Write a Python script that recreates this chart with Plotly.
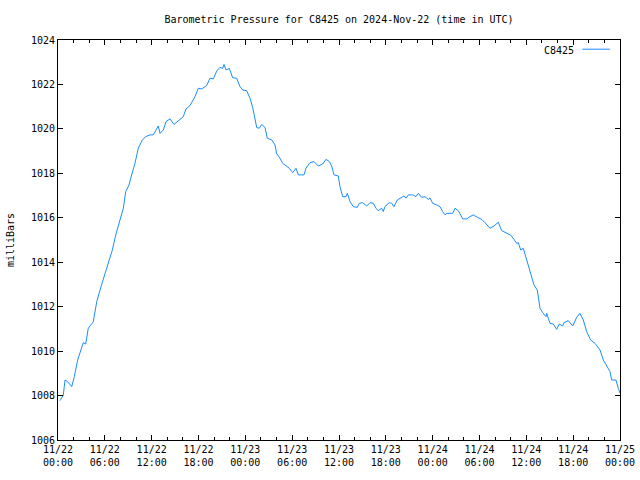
import plotly.graph_objects as go

# hours since 2024-11-22 00:00 UTC
hours = [0.26, 0.68, 0.90, 1.24, 1.76, 2.09, 2.52, 3.04, 3.24, 3.55, 3.88, 4.52, 4.96,
         5.51, 6.02, 6.44, 6.96, 7.39, 7.82, 8.37, 8.67, 9.10, 9.35, 9.86, 10.29, 10.80,
         11.24, 11.79, 12.21, 12.85, 13.07, 13.49, 13.84, 14.35, 14.86, 15.41, 16.05,
         16.40, 16.91, 17.55, 17.97, 18.41, 19.05, 19.47, 19.90, 20.33, 20.75, 21.10,
         21.27, 21.52, 21.95, 22.38, 22.89, 23.32, 23.66, 24.17, 24.60, 24.94, 25.24,
         25.46, 25.79, 26.10, 26.52, 26.81, 27.38, 27.80, 28.02, 28.44, 28.79, 29.30,
         29.63, 30.07, 30.49, 30.79, 31.52, 31.77, 32.28, 32.80, 33.35, 33.91, 34.33,
         34.76, 35.06, 35.36, 35.91, 36.13, 36.47, 36.90, 37.06, 37.41, 37.83, 38.34,
         38.60, 39.03, 39.55, 39.97, 40.39, 40.74, 41.03, 41.47, 41.67, 41.89, 42.44,
         42.75, 43.04, 43.47, 43.90, 44.33, 44.58, 44.88, 45.44, 45.86, 46.16, 46.59,
         47.02, 47.44, 47.66, 48.00, 48.51, 48.94, 49.28, 49.58, 49.80, 50.57, 50.86,
         51.28, 51.85, 52.36, 52.78, 53.20, 53.72, 54.28, 54.70, 55.34, 55.86, 56.41,
         56.84, 57.48, 57.99, 58.42, 58.76, 58.97, 59.28, 59.61, 59.96, 60.47, 60.98,
         61.40, 61.75, 62.10, 62.52, 62.61, 63.03, 63.45, 63.89, 64.22, 64.66, 64.82,
         65.37, 65.94, 66.45, 66.87, 67.30, 67.73, 68.24, 68.80, 69.44, 69.86, 70.37,
         70.72, 70.93, 71.48, 71.78, 72.00]

pressure = [1007.77, 1008.02, 1008.70, 1008.62, 1008.40, 1008.85, 1009.60, 1010.20,
            1010.38, 1010.32, 1011.03, 1011.32, 1012.22, 1012.90, 1013.50, 1014.02,
            1014.55, 1015.22, 1015.75, 1016.43, 1017.17, 1017.48, 1017.82, 1018.45,
            1019.13, 1019.50, 1019.65, 1019.73, 1019.73, 1020.13, 1019.80, 1019.95,
            1020.33, 1020.45, 1020.20, 1020.35, 1020.55, 1020.90, 1021.05, 1021.45,
            1021.83, 1021.80, 1021.95, 1022.28, 1022.25, 1022.60, 1022.77, 1022.72,
            1022.90, 1022.65, 1022.72, 1022.30, 1022.28, 1021.90, 1021.75, 1021.72,
            1021.38, 1020.96, 1020.33, 1020.06, 1020.03, 1020.20, 1020.06, 1019.58,
            1019.50, 1019.28, 1018.88, 1018.68, 1018.45, 1018.30, 1018.23, 1018.03,
            1018.23, 1017.93, 1017.93, 1018.23, 1018.48, 1018.53, 1018.33, 1018.42,
            1018.63, 1018.53, 1018.33, 1017.93, 1017.88, 1017.40, 1016.95, 1016.95,
            1017.10, 1016.73, 1016.50, 1016.47, 1016.65, 1016.68, 1016.53, 1016.68,
            1016.65, 1016.43, 1016.32, 1016.43, 1016.28, 1016.50, 1016.68, 1016.65,
            1016.50, 1016.80, 1016.88, 1016.98, 1016.88, 1017.03, 1017.03, 1016.95,
            1017.10, 1016.92, 1016.95, 1016.83, 1016.90, 1016.65, 1016.58, 1016.50,
            1016.28, 1016.13, 1016.20, 1016.20, 1016.43, 1016.32, 1015.95, 1015.95,
            1016.05, 1016.13, 1016.02, 1015.93, 1015.78, 1015.53, 1015.63, 1015.80,
            1015.42, 1015.30, 1015.22, 1015.03, 1014.85, 1014.88, 1014.55, 1014.63,
            1014.18, 1013.65, 1012.98, 1012.75, 1011.93, 1011.73, 1011.55, 1011.70,
            1011.25, 1011.22, 1010.98, 1011.22, 1011.13, 1011.28, 1011.37, 1011.13,
            1011.52, 1011.70, 1011.40, 1010.88, 1010.50, 1010.35, 1010.05, 1009.60,
            1009.30, 1009.08, 1008.70, 1008.70, 1008.33, 1008.10]

tick_hours = [0, 6, 12, 18, 24, 30, 36, 42, 48, 54, 60, 66, 72]
tick_labels = ["11/22<br>00:00", "11/22<br>06:00", "11/22<br>12:00", "11/22<br>18:00",
               "11/23<br>00:00", "11/23<br>06:00", "11/23<br>12:00", "11/23<br>18:00",
               "11/24<br>00:00", "11/24<br>06:00", "11/24<br>12:00", "11/24<br>18:00",
               "11/25<br>00:00"]

FONT = "DejaVu Sans Mono"
LINE_COLOR = "#1a8cff"

fig = go.Figure()
fig.add_trace(go.Scatter(x=hours, y=pressure, mode="lines", name="C8425",
                         line=dict(color=LINE_COLOR, width=1), showlegend=False))

fig.update_layout(
    width=640, height=480,
    margin=dict(l=58, r=20, t=40, b=40, autoexpand=False),
    paper_bgcolor="white", plot_bgcolor="white",
    font=dict(family=FONT, size=10, color="black"),
    title=dict(text="Barometric Pressure for C8425 on 2024-Nov-22 (time in UTC)",
               xref="paper", x=0.5, xanchor="center", y=1 - 19 / 480, yanchor="middle",
               font=dict(family=FONT, size=10, color="black")),
)
fig.update_xaxes(range=[0, 72], tickmode="array", tickvals=tick_hours, ticktext=tick_labels,
                 showline=True, linecolor="black", linewidth=1, mirror="ticks",
                 ticks="inside", ticklen=5, tickcolor="black", showgrid=False,
                 zeroline=False, automargin=False,
                 minor=dict(ticks="inside", ticklen=3, dtick=2, tick0=0, tickcolor="black",
                            showgrid=False),
                 tickfont=dict(family=FONT, size=10))
fig.update_yaxes(range=[1006, 1024], dtick=2, tick0=1006,
                 showline=True, linecolor="black", linewidth=1, mirror="ticks",
                 ticks="inside", ticklen=5, tickcolor="black", showgrid=False,
                 zeroline=False, automargin=False,
                 title=dict(text="milliBars", standoff=14, font=dict(family=FONT, size=10)),
                 tickfont=dict(family=FONT, size=10))

# gnuplot-style key: label then line sample, top right inside plot
fig.add_annotation(xref="paper", yref="paper", x=0.922, y=0.975, xanchor="right",
                   yanchor="middle", text="C8425", showarrow=False,
                   font=dict(family=FONT, size=10, color="black"))
fig.add_shape(type="line", xref="paper", yref="paper", x0=0.933, x1=0.982,
              y0=0.977, y1=0.977, line=dict(color=LINE_COLOR, width=1))

fig.write_html("out.html")
